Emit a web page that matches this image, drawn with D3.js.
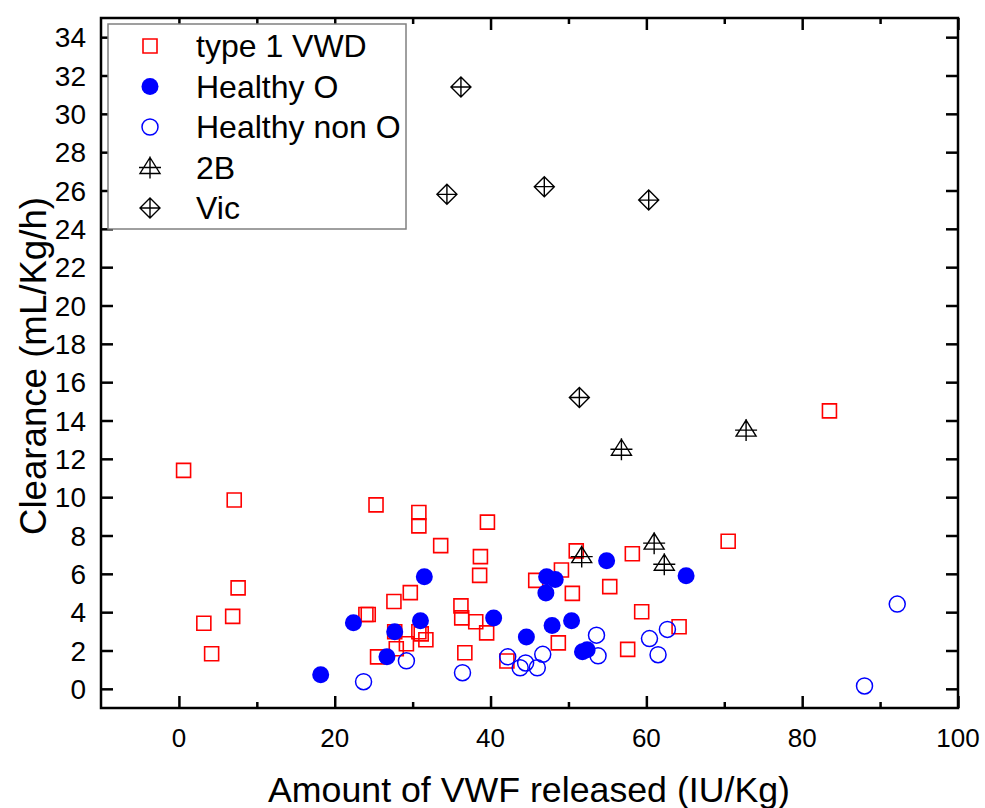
<!DOCTYPE html>
<html>
<head>
<meta charset="utf-8">
<script src="https://cdnjs.cloudflare.com/ajax/libs/d3/7.8.5/d3.min.js"></script>
<style>
  body { margin: 0; background: #fff; }
  text { font-family: "Liberation Sans", Arial, sans-serif; fill: #000; }
</style>
</head>
<body>
<div class="svgcont"></div>
<script>
// series names (legend order)
const seriesNames = ["type 1 VWD", "Healthy O", "Healthy non O", "2B", "Vic"];

// type 1 VWD
const vwdX = [0.6, 7.1, 7.6, 6.9, 3.2, 4.2, 25.3, 30.8, 30.8, 39.6, 33.6, 38.7, 38.6, 29.7,
  27.6, 24.0, 24.3, 36.2, 36.3, 38.1, 39.5, 30.8, 31.1, 31.7, 29.2, 27.9, 25.5, 36.7, 27.7,
  42.1, 45.8, 51.0, 49.1, 50.5, 55.3, 58.2, 59.4, 70.5, 64.2, 48.7, 57.6, 83.5];
const vwdY = [11.4, 9.85, 5.27, 3.78, 3.42, 1.83, 9.6, 9.2, 8.5, 8.7, 7.47, 6.9, 5.92, 5.02,
  4.56, 3.88, 3.88, 4.33, 3.7, 3.5, 2.92, 2.98, 2.87, 2.56, 2.35, 2.09, 1.67, 1.88, 2.98,
  1.45, 5.66, 7.2, 6.2, 4.98, 5.33, 7.05, 4.02, 7.7, 3.24, 2.4, 2.06, 14.5];

// Healthy O
const hoX = [18.2, 22.4, 26.7, 27.7, 31.0, 31.5, 40.4, 44.6, 47.2, 48.3, 47.1, 47.9, 50.4,
  51.8, 52.4, 54.9, 65.1];
const hoY = [0.73, 3.45, 1.67, 2.98, 3.55, 5.85, 3.7, 2.7, 5.85, 5.7, 5.0, 3.3, 3.55,
  1.93, 2.04, 6.68, 5.9];

// Healthy non O
const hnoX = [23.7, 29.2, 36.4, 42.2, 43.8, 44.5, 46.0, 46.7, 53.6, 53.8, 60.4, 61.5, 62.7, 88.0, 92.2];
const hnoY = [0.37, 1.46, 0.84, 1.67, 1.1, 1.35, 1.1, 1.8, 2.8, 1.72, 2.62, 1.78, 3.1, 0.15, 4.42];

// 2B
const bX = [51.7, 56.8, 61.0, 62.3, 72.8];
const bY = [6.9, 12.5, 7.6, 6.5, 13.5];

// Vic
const vicX = [36.2, 34.4, 46.9, 60.3, 51.4];
const vicY = [31.4, 25.8, 26.2, 25.5, 15.2];

const xTicks = [0, 20, 40, 60, 80, 100];
const xMinor = [10, 30, 50, 70, 90];
const yTicks = d3.range(0, 35, 2);

const W = 985, H = 808;
const mLeft = 101, mRight = 958, mTop = 18, mBottom = 708;

const svg = d3.select(".svgcont").append("svg")
  .attr("width", W).attr("height", H);

const x = d3.scaleLinear().domain([-10, 100]).range([mLeft, mRight]);
const y = d3.scaleLinear().domain([-1, 35]).range([mBottom, mTop]);

// axes (ticks pointing inward)
const gx = svg.append("g").attr("transform", `translate(0,${mBottom})`);
gx.call(d3.axisTop(x).tickValues(xTicks).tickSize(12).tickFormat(""));
gx.append("g").call(d3.axisTop(x).tickValues(xMinor).tickSize(6).tickFormat(""));
xTicks.forEach(v => {
  svg.append("text").attr("x", x(v)).attr("y", 747)
    .attr("text-anchor", "middle").style("font-size", "26px").text(v);
});

const gt = svg.append("g").attr("transform", `translate(0,${mTop})`);
gt.call(d3.axisBottom(x).tickValues(xTicks).tickSize(12).tickFormat(""));
gt.append("g").call(d3.axisBottom(x).tickValues(xMinor).tickSize(6).tickFormat(""));

const gy = svg.append("g").attr("transform", `translate(${mLeft},0)`);
gy.call(d3.axisRight(y).tickValues(yTicks).tickSize(12).tickFormat(""));
yTicks.forEach(v => {
  svg.append("text").attr("x", 86).attr("y", y(v) + 10)
    .attr("text-anchor", "end").style("font-size", "28px").text(v);
});

const gr = svg.append("g").attr("transform", `translate(${mRight},0)`);
gr.call(d3.axisLeft(y).tickValues(yTicks).tickSize(12).tickFormat(""));

svg.selectAll(".domain").remove();
svg.selectAll(".tick line").attr("stroke", "#000").attr("stroke-width", 2.5);

svg.append("rect")
  .attr("x", mLeft).attr("y", mTop)
  .attr("width", mRight - mLeft).attr("height", mBottom - mTop)
  .attr("fill", "none").attr("stroke", "#000").attr("stroke-width", 2.5);

// axis titles
svg.append("text")
  .attr("x", 529).attr("y", 802)
  .attr("text-anchor", "middle").style("font-size", "35px")
  .attr("textLength", 522).attr("lengthAdjust", "spacingAndGlyphs")
  .text("Amount of VWF released (IU/Kg)");

svg.append("text")
  .attr("transform", "translate(46,366) rotate(-90)")
  .attr("text-anchor", "middle").style("font-size", "36px")
  .attr("textLength", 338).attr("lengthAdjust", "spacingAndGlyphs")
  .text("Clearance (mL/Kg/h)");

// marker shapes
const squarePath = "M-7,-7H7V7H-7Z";
const triPath = "M0,-10L10,6H-10Z M-11,0H11 M0,-11V11";
const diaPath = "M0,-10L10,0L0,10L-10,0Z M-10,0H10 M0,-10V10";

const plot = svg.append("g");

function drawPaths(xs, ys, d, stroke, width) {
  plot.selectAll(null).data(xs).enter().append("path")
    .attr("d", d)
    .attr("transform", (v, i) => `translate(${x(v)},${y(ys[i])})`)
    .attr("fill", "none").attr("stroke", stroke).attr("stroke-width", width);
}

drawPaths(vwdX, vwdY, squarePath, "#ff0000", 1.6);

plot.selectAll(null).data(hoX).enter().append("circle")
  .attr("cx", d => x(d)).attr("cy", (d, i) => y(hoY[i])).attr("r", 8.5)
  .attr("fill", "#0000ff");

plot.selectAll(null).data(hnoX).enter().append("circle")
  .attr("cx", d => x(d)).attr("cy", (d, i) => y(hnoY[i])).attr("r", 8)
  .attr("fill", "none").attr("stroke", "#0000ff").attr("stroke-width", 1.5);

drawPaths(bX, bY, triPath, "#000", 1.4);
drawPaths(vicX, vicY, diaPath, "#000", 1.4);

// legend
const leg = svg.append("g");
leg.append("rect")
  .attr("x", 108).attr("y", 24).attr("width", 298).attr("height", 205)
  .attr("fill", "#fff").attr("stroke", "#808080").attr("stroke-width", 1.5);

const rowY = d3.scalePoint().domain(seriesNames).range([46, 208]);
const lx = 150;
seriesNames.forEach((name, i) => {
  const cy = rowY(name);
  if (i === 0) {
    leg.append("path").attr("d", squarePath).attr("transform", `translate(${lx},${cy})`)
      .attr("fill", "none").attr("stroke", "#ff0000").attr("stroke-width", 1.6);
  } else if (i === 1) {
    leg.append("circle").attr("cx", lx).attr("cy", cy).attr("r", 8.5).attr("fill", "#0000ff");
  } else if (i === 2) {
    leg.append("circle").attr("cx", lx).attr("cy", cy).attr("r", 8)
      .attr("fill", "none").attr("stroke", "#0000ff").attr("stroke-width", 1.5);
  } else {
    leg.append("path").attr("d", i === 3 ? triPath : diaPath)
      .attr("transform", `translate(${lx},${cy})`)
      .attr("fill", "none").attr("stroke", "#000").attr("stroke-width", 1.4);
  }
  leg.append("text").attr("x", 196).attr("y", cy + 11)
    .style("font-size", "32px").text(name);
});
</script>
</body>
</html>
